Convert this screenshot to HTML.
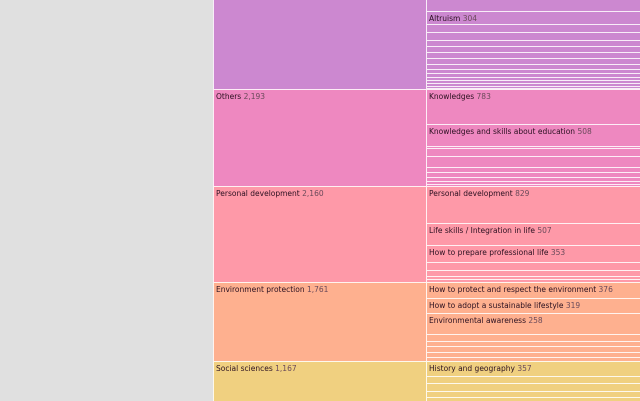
<!DOCTYPE html>
<html><head><style>
body{margin:0;width:640px;height:400px;overflow:hidden;background:#e0e0e0;position:relative;font-family:"DejaVu Sans","Liberation Sans",sans-serif;font-size:7.5px;color:#2a1020}
.r{position:absolute;box-sizing:border-box;border-top:1px solid rgba(255,255,255,0.85);border-left:1px solid rgba(255,255,255,0.85);overflow:hidden;white-space:nowrap}
.r span{position:absolute;left:2px;top:2px}
.r i{font-style:normal;color:#6a4a5a}
</style></head><body>
<div id="c"></div>
<script>
const cols=[["#cc88d0",-1,89],["#ee88c0",89,186],["#fe99a8",186,282],["#feb08f",282,361],["#f0d080",361,401]];
const L=[["",-1,89],["Others","2,193",89,186],["Personal development","2,160",186,282],["Environment protection","1,761",282,361],["Social sciences","1,167",361,401]];
let h="";
const colorAt=y=>cols.find(c=>y>=c[1]&&y<c[2])[0];
h+=`<div class="r" style="left:213px;top:-1px;width:214px;height:90px;background:#cc88d0"></div>`;
for(let i=1;i<L.length;i++){const [n,v,a,b]=L[i];h+=`<div class="r" style="left:213px;top:${a}px;width:214px;height:${b-a}px;background:${colorAt(a)}"><span>${n} <i>${v}</i></span></div>`;}
const labels={11:["Altruism","304"],89:["Knowledges","783"],124:["Knowledges and skills about education","508"],186:["Personal development","829"],223:["Life skills / Integration in life","507"],245:["How to prepare professional life","353"],282:["How to protect and respect the environment","376"],298:["How to adopt a sustainable lifestyle","319"],313:["Environmental awareness","258"],361:["History and geography","357"]};
const bounds=[-1,11,24,32,40,46,52,58,64,69,73,77,80,83,86,88,89,124,146,148,156,167,172,177,181,184,186,223,245,262,270,276,279,282,298,313,334,341,346,352,357,361,376,383,391,397,401];
for(let i=0;i<bounds.length-1;i++){const a=bounds[i],b=bounds[i+1];const l=labels[a];h+=`<div class="r" style="left:426px;top:${a}px;width:215px;height:${b-a}px;background:${colorAt(a)}">${l?`<span>${l[0]} <i>${l[1]}</i></span>`:""}</div>`;}
document.getElementById("c").innerHTML=h;
</script>
</body></html>
